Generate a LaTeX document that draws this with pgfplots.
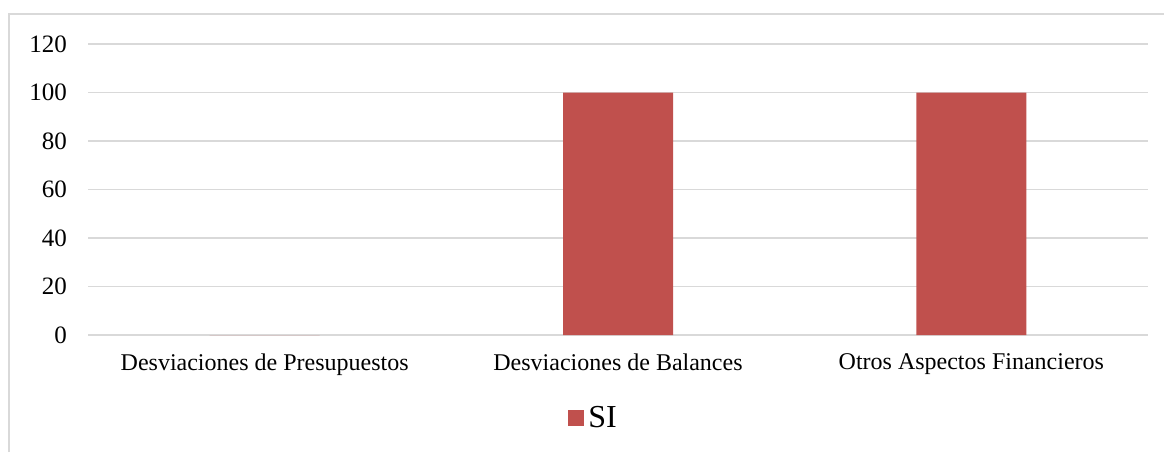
\documentclass[border=0pt]{standalone}
\usepackage{fontspec}
\setmainfont{Liberation Serif}
\usepackage{pgfplots}
\pgfplotsset{compat=1.18}
\definecolor{barred}{HTML}{C0504D}
\definecolor{gridgray}{HTML}{D9D9D9}
\begin{document}
\begin{tikzpicture}
  \useasboundingbox (0,0) rectangle (582pt,226pt);
  \draw[gridgray, line width=1pt] (4.5pt,0) -- (4.5pt,219pt) -- (582pt,219pt);
  \begin{axis}[
    at={(44pt,58.5pt)}, anchor=south west,
    scale only axis, width=530pt, height=145.5pt,
    ybar, bar width=55pt,
    xmin=-0.5, xmax=2.5, ymin=0, ymax=120,
    ytick={0,20,...,120},
    xtick={0,1,2},
    xticklabels={Desviaciones de Presupuestos, Desviaciones de Balances, Otros Aspectos Financieros},
    axis line style={draw=none},
    major tick length=0pt,
    ymajorgrids, grid style={gridgray, line width=0.75pt},
    tick label style={text=black},
    /pgf/number format/assume math mode=true,
    yticklabel style={xshift=-7pt, font=\fontsize{12.5}{14}\selectfont},
    xticklabel style={yshift=-6pt, font=\fontsize{12}{14}\selectfont},
    legend style={at={(0.478,-0.285)}, anchor=center, draw=none,
      font=\fontsize{16}{18}\selectfont, inner sep=0pt},
    legend image code/.code={\fill[#1] (0pt,-4pt) rectangle (8pt,4pt);},
  ]
    \addplot[fill=barred, draw=none] coordinates {(0,0) (1,100) (2,100)};
    \addlegendentry{SI}
  \end{axis}
\end{tikzpicture}
\end{document}
